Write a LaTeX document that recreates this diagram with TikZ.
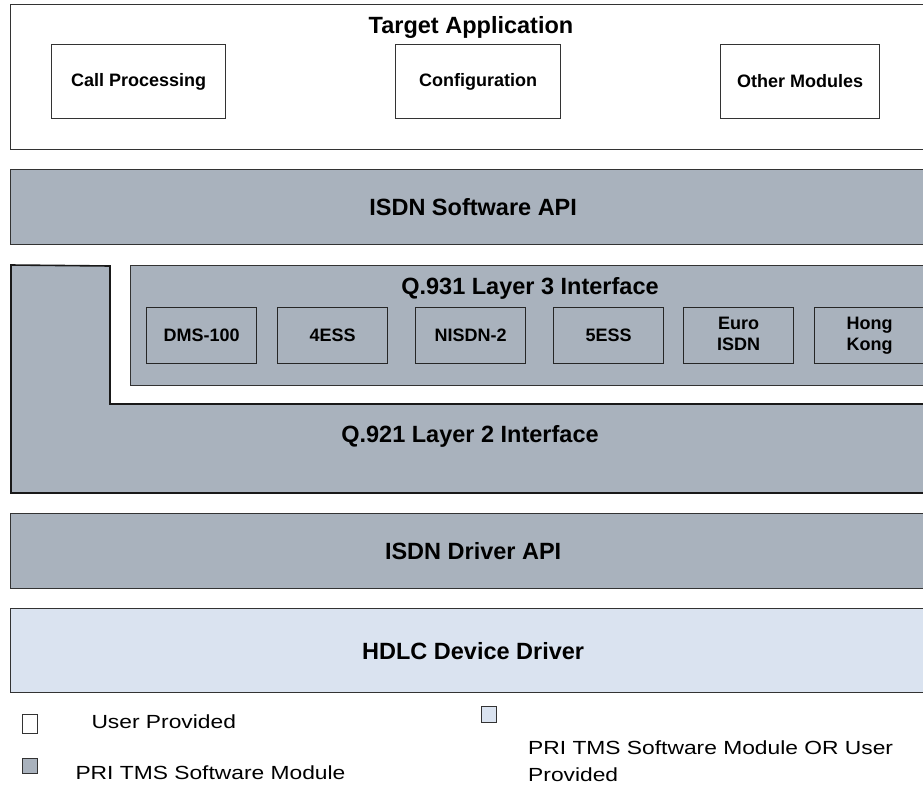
\documentclass[tikz,border=0pt]{standalone}
\usepackage{fontspec}
\setmainfont{Liberation Sans}
\newfontfamily\legendfont[FakeStretch=1.2]{Liberation Sans}
\begin{document}
\begin{tikzpicture}[x=1pt,y=-1pt,
  bigfont/.style={font=\fontsize{23.5}{27}\selectfont\bfseries},
  smallfont/.style={font=\fontsize{18}{21}\selectfont\bfseries},
  legfont/.style={font=\legendfont\fontsize{19}{27}\selectfont},
  inner box/.style={draw=black!85, line width=1.1pt, fill=modgray, smallfont, align=center,
     minimum width=110pt, minimum height=56pt, inner sep=0pt, anchor=north west},
  top box/.style={draw=black!80, line width=1.1pt, fill=white, smallfont, align=center,
     minimum height=74pt, inner sep=0pt, anchor=north west},
  layer/.style={draw=black!80, line width=1.3pt, minimum width=925pt, inner sep=0pt, anchor=north west},
  legbox/.style={draw=black!80, line width=0.8pt, minimum width=15pt, inner sep=0pt, anchor=north west},
]
\definecolor{modgray}{RGB}{169,178,189}
\definecolor{optblue}{RGB}{218,227,240}
\clip (0,0) rectangle (923,790);
\fill[white] (0,0) rectangle (923,790);

% Target application
\node[layer, fill=white, minimum height=145pt] (target) at (10,4) {};
\node[bigfont, anchor=center] (targetlbl) at (471,27) {Target Application};
\node[top box, minimum width=174pt] (callp) at (51,44) {Call Processing};
\node[top box, minimum width=165pt] (config) at (395,44) {Configuration};
\node[top box, minimum width=159pt] (other) at (720,44) {Other Modules};

% ISDN Software API
\node[layer, fill=modgray, minimum height=75pt, bigfont] (swapi) at (10,169) {ISDN Software API};

% Q.921 notched shape
\draw[line width=1.6pt, draw=black!90, fill=modgray]
  (11,265) -- (110,266) -- (110,404) -- (940,404) -- (940,493) -- (11,493) -- cycle;
\node[bigfont] (q921) at (470,436) {Q.921 Layer 2 Interface};

% Q.931
\node[layer, fill=modgray, minimum width=810pt, minimum height=120pt] (q931) at (130,265) {};
\node[bigfont] (q931lbl) at (530,288) {Q.931 Layer 3 Interface};
\node[inner box] (dms) at (146,307) {DMS-100};
\node[inner box] (ess4) at (277,307) {4ESS};
\node[inner box] (nisdn) at (415,307) {NISDN-2};
\node[inner box] (ess5) at (553,307) {5ESS};
\node[inner box] (euro) at (683,307) {Euro\strut\\ISDN\strut};
\node[inner box] (hk) at (814,307) {Hong\strut\\Kong\strut};

% ISDN Driver API
\node[layer, fill=modgray, minimum height=75pt, bigfont] (drvapi) at (10,513) {ISDN Driver API};

% HDLC
\node[layer, fill=optblue, minimum height=84pt, bigfont] (hdlc) at (10,608) {HDLC Device Driver};

% Legend
\node[legbox, fill=white, minimum height=19pt] (legwhite) at (22,714) {};
\node[legfont, anchor=west] (legwhitetxt) at (88,722) {User Provided};
\node[legbox, fill=modgray, minimum height=15pt] (leggray) at (22,758) {};
\node[legfont, anchor=west] (leggraytxt) at (72,773) {PRI TMS Software Module};
\node[legbox, fill=optblue, minimum height=16pt] (legblue) at (481,706) {};
\node[legfont, anchor=north west, align=left, inner sep=0pt] (legbluetxt) at (528,741) {PRI TMS Software Module OR User\\Provided};
\end{tikzpicture}
\end{document}
